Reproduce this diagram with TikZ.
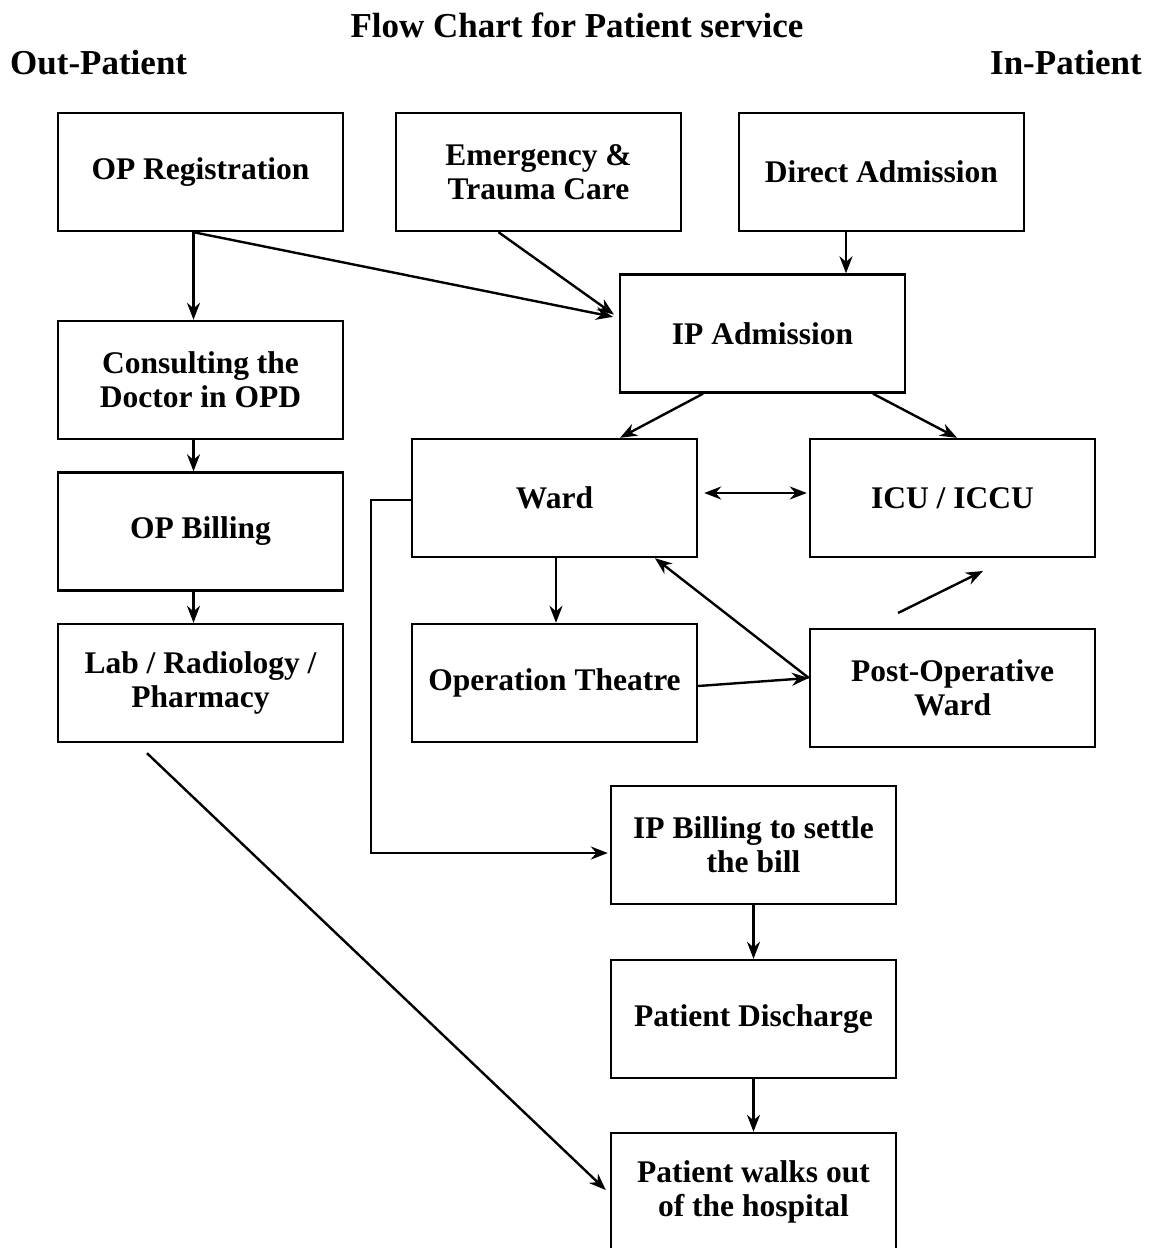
\documentclass[tikz,border=0pt]{standalone}
\usepackage{fontspec}
\setmainfont{Liberation Serif}
\usetikzlibrary{arrows.meta,calc}
\begin{document}
\begin{tikzpicture}[x=1pt,y=-1pt,
  box/.style={draw,line width=2.4pt,minimum width=285pt,minimum height=118pt,align=center,inner sep=0pt,
    font=\fontsize{31.5}{34}\selectfont\bfseries},
  conn/.style={line width=2.4pt,-{Stealth[length=17pt,width=13pt]}},
  lbl/.style={font=\fontsize{35}{38}\selectfont\bfseries,inner sep=0pt}]
\clip (0,0) rectangle (1151,1248);
\fill[white] (0,0) rectangle (1151,1248);
\node[lbl] (title) at (577,25) {Flow Chart for Patient service};
\node[lbl,anchor=west] (outp) at (10,63) {Out-Patient};
\node[lbl,anchor=east] (inp) at (1142,63) {In-Patient};
\node[box] (opreg) at (200.5,172) {OP Registration};
\node[box] (emerg) at (538.5,172) {Emergency \&\\Trauma Care};
\node[box] (direct) at (881.5,172) {Direct Admission};
\node[box] (ipadm) at (762.5,333.5) {IP Admission};
\node[box] (consult) at (200.5,380) {Consulting the\\Doctor in OPD};
\node[box] (ward) at (554.5,498) {Ward};
\node[box] (icu) at (952.5,498) {ICU / ICCU};
\node[box] (opbill) at (200.5,531.5) {OP Billing};
\node[box] (lab) at (200.5,683) {Lab / Radiology /\\Pharmacy};
\node[box] (ot) at (554.5,683) {Operation Theatre};
\node[box] (postop) at (952.5,688) {Post-Operative\\Ward};
\node[box] (ipbill) at (753.5,845) {IP Billing to settle\\the bill};
\node[box] (discharge) at (753.5,1019) {Patient Discharge};
\node[box] (walk) at (753.5,1192) {Patient walks out\\of the hospital};
\coordinate (fa) at (898,613);
\coordinate (fb) at (983,571);
% connectors
\draw[conn] ([xshift=-7pt]opreg.south) -- ([xshift=-7pt]consult.north);
\draw[conn,shorten >=6pt] ([xshift=-7pt]opreg.south) -- ([yshift=15.5pt]ipadm.west);
\draw[conn,shorten >=6pt] ([xshift=-40pt]emerg.south) -- ([yshift=15.5pt]ipadm.west);
\draw[conn] ([xshift=-35.5pt]direct.south) -- ([xshift=83.5pt]ipadm.north);
\draw[conn] ([xshift=-7pt]consult.south) -- ([xshift=-7pt]opbill.north);
\draw[conn] ([xshift=-7pt]opbill.south) -- ([xshift=-7pt]lab.north);
\draw[conn] ([xshift=-59.5pt]ipadm.south) -- ([xshift=65.5pt]ward.north);
\draw[conn] ([xshift=110.5pt]ipadm.south) -- ([xshift=4.5pt]icu.north);
\draw[conn,{Stealth[length=17pt,width=13pt]}-{Stealth[length=17pt,width=13pt]}] ([xshift=6pt,yshift=5pt]ward.east) -- ([xshift=-2pt,yshift=5pt]icu.west);
\draw[conn] ([xshift=1.5pt]ward.south) -- ([xshift=1.5pt]ot.north);
\draw[conn] ([yshift=-3pt]ot.east) -- ([yshift=10pt]postop.west);
\draw[conn] ([yshift=10pt]postop.west) -- ([xshift=100.5pt]ward.south);
\draw[conn] (fa) -- (fb);
\draw[conn] ([yshift=-2pt]ward.west) -- ++(-40,0) |- ([xshift=-2pt,yshift=-8pt]ipbill.west);
\draw[conn] (ipbill.south) -- (discharge.north);
\draw[conn] (discharge.south) -- (walk.north);
\draw[conn] ([xshift=-53.5pt,yshift=-10pt]lab.south) -- ([xshift=-4pt,yshift=2pt]walk.west);
\end{tikzpicture}
\end{document}
